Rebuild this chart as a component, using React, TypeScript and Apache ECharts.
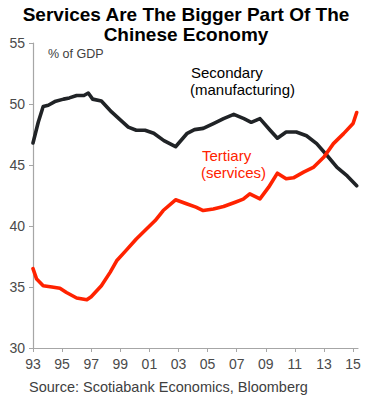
import React, { useEffect, useRef } from "react";
import * as echarts from "echarts";

// x values are years since 1993
const xTickValues = [0, 2, 4, 6, 8, 10, 12, 14, 16, 18, 20, 22];
const yMin = 30;
const yMax = 55;

const secondaryT = [0, 0.36, 0.7, 1.05, 1.5, 2.1, 2.5, 3.0, 3.5, 3.8, 4.1, 4.7, 5.4, 6.0, 6.55, 7.1, 7.7, 8.3, 9.0, 9.8, 10.6, 11.1, 11.7, 12.4, 13.1, 13.8, 14.5, 15.0, 15.6, 16.3, 16.8, 17.4, 18.1, 18.8, 19.5, 20.2, 20.9, 21.6, 22.25];
const secondaryShare = [46.8, 48.5, 49.8, 49.9, 50.2, 50.4, 50.5, 50.7, 50.7, 50.9, 50.4, 50.25, 49.35, 48.7, 48.1, 47.85, 47.85, 47.6, 47.0, 46.5, 47.6, 47.9, 48.0, 48.4, 48.8, 49.15, 48.8, 48.5, 48.8, 47.85, 47.2, 47.7, 47.7, 47.4, 46.75, 45.8, 44.8, 44.1, 43.3];

const tertiaryT = [0, 0.25, 0.7, 1.3, 1.85, 2.3, 3.0, 3.7, 4.0, 4.7, 5.3, 5.75, 6.4, 7.1, 7.8, 8.4, 8.95, 9.8, 10.6, 11.2, 11.7, 12.4, 13.1, 13.9, 14.45, 14.9, 15.6, 16.2, 16.8, 17.4, 17.9, 18.6, 19.3, 20.0, 20.65, 21.35, 22.0, 22.25];
const tertiaryShare = [36.5, 35.65, 35.1, 35.0, 34.9, 34.55, 34.1, 33.95, 34.2, 35.1, 36.2, 37.15, 38.0, 38.94, 39.76, 40.45, 41.27, 42.15, 41.8, 41.55, 41.27, 41.4, 41.6, 41.95, 42.2, 42.64, 42.23, 43.18, 44.33, 43.87, 43.95, 44.42, 44.83, 45.65, 46.75, 47.57, 48.4, 49.3];

const titleLines = ["Services Are The Bigger Part Of The", "Chinese Economy"];
const unitLabel = "% of GDP";
const secondaryLabel = ["Secondary", "(manufacturing)"];
const tertiaryLabel = ["Tertiary", "(services)"];
const sourceText = "Source: Scotiabank Economics, Bloomberg";

const FONT = "'Liberation Sans', Arial, sans-serif";

export default function App() {
  const ref = useRef<HTMLDivElement>(null);
  useEffect(() => {
    if (!ref.current) return;
    const chart = echarts.init(ref.current, null, { renderer: "svg" });
    const zip = (xs: number[], ys: number[]) => xs.map((x, i) => [x, ys[i]]);
    const axisGray = "#a6a6a6";
    const labelGray = "#4a4a4a";
    chart.setOption({
      animation: false,
      backgroundColor: "#ffffff",
      grid: { left: 33, right: 15, top: 43, bottom: 52 },
      xAxis: {
        type: "value",
        min: 0,
        max: 22.34,
        axisLine: { show: true, lineStyle: { color: axisGray, width: 1.2 } },
        axisTick: { show: true, customValues: xTickValues, length: 4, lineStyle: { color: axisGray } },
        axisLabel: {
          customValues: xTickValues,
          formatter: (v: number) => String((93 + Math.round(v)) % 100).padStart(2, "0"),
          color: labelGray,
          fontFamily: FONT,
          fontSize: 14,
          margin: 9,
        },
        splitLine: { show: false },
      },
      yAxis: {
        type: "value",
        min: yMin,
        max: yMax,
        interval: 5,
        axisLine: { show: true, lineStyle: { color: axisGray, width: 1.2 } },
        axisTick: { show: true, length: 4, lineStyle: { color: axisGray } },
        axisLabel: { color: labelGray, fontFamily: FONT, fontSize: 14, margin: 8 },
        splitLine: { show: false },
      },
      series: [
        {
          type: "line",
          data: zip(secondaryT, secondaryShare),
          symbol: "none",
          clip: false,
          lineStyle: { color: "#202326", width: 3.6, join: "round", cap: "round" },
        },
        {
          type: "line",
          data: zip(tertiaryT, tertiaryShare),
          symbol: "none",
          clip: false,
          lineStyle: { color: "#ff2200", width: 3.6, join: "round", cap: "round" },
        },
      ],
      graphic: [
        { type: "text", x: 186, y: 14, style: { text: titleLines[0], font: `bold 19px ${FONT}`, fill: "#000", align: "center", verticalAlign: "middle" } },
        { type: "text", x: 186, y: 34, style: { text: titleLines[1], font: `bold 19px ${FONT}`, fill: "#000", align: "center", verticalAlign: "middle" } },
        { type: "text", x: 48, y: 54, style: { text: unitLabel, font: `12.5px ${FONT}`, fill: "#404040", verticalAlign: "middle" } },
        { type: "text", x: 191, y: 72, style: { text: secondaryLabel[0], font: `15px ${FONT}`, fill: "#000", verticalAlign: "middle" } },
        { type: "text", x: 190, y: 89, style: { text: secondaryLabel[1], font: `15px ${FONT}`, fill: "#000", verticalAlign: "middle" } },
        { type: "text", x: 202, y: 155, style: { text: tertiaryLabel[0], font: `15px ${FONT}`, fill: "#ff2200", verticalAlign: "middle" } },
        { type: "text", x: 201, y: 172, style: { text: tertiaryLabel[1], font: `15px ${FONT}`, fill: "#ff2200", verticalAlign: "middle" } },
        { type: "text", x: 29, y: 387, style: { text: sourceText, font: `14.5px ${FONT}`, fill: "#404040", verticalAlign: "middle" } },
      ],
    });
    return () => chart.dispose();
  }, []);
  return <div ref={ref} style={{ position: "absolute", left: 0, top: 0, width: 373, height: 400 }} />;
}
